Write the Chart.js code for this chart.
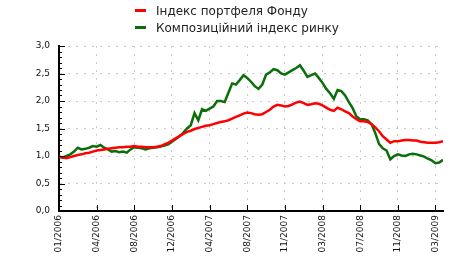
<!DOCTYPE html>
<html><head><meta charset="utf-8">
<script src="https://cdn.jsdelivr.net/npm/chart.js@4/dist/chart.umd.min.js"></script>
<style>
html,body{margin:0;padding:0;background:#fff;}
#wrap{position:relative;width:466px;height:276px;overflow:hidden;}
canvas{position:absolute;left:0;top:0;}
#legend{position:absolute;left:135px;top:2px;font:12px "DejaVu Sans",sans-serif;color:#222;}
.item{display:flex;align-items:center;height:17px;white-space:nowrap;}
.sw{display:inline-block;width:11px;height:3px;margin-right:10px;}
</style></head><body>
<div id="wrap">
<canvas id="c" width="466" height="276"></canvas>
<div id="legend"></div>
</div>
<script>
const seriesNames = ['Індекс портфеля Фонду', 'Композиційний індекс ринку'];
const seriesColors = ['#ff0000', '#0a6e0a'];
const tickLabels = ['01/2006','04/2006','08/2006','12/2006','04/2007','08/2007','11/2007','03/2008','07/2008','11/2008','03/2009'];
const fundIndex = [
0.99,0.97,0.96,0.98,1.00,1.02,1.03,1.05,1.06,1.08,
1.10,1.11,1.12,1.13,1.14,1.15,1.16,1.16,1.17,1.17,
1.18,1.17,1.17,1.16,1.16,1.16,1.17,1.18,1.21,1.24,
1.28,1.32,1.36,1.40,1.44,1.46,1.49,1.51,1.53,1.55,
1.56,1.58,1.60,1.62,1.63,1.65,1.68,1.71,1.74,1.77,
1.79,1.78,1.76,1.75,1.76,1.80,1.84,1.90,1.93,1.92,
1.90,1.91,1.94,1.97,1.99,1.96,1.93,1.94,1.96,1.95,
1.92,1.88,1.84,1.82,1.88,1.85,1.81,1.78,1.72,1.67,
1.63,1.63,1.62,1.58,1.52,1.45,1.36,1.30,1.24,1.27,
1.27,1.28,1.29,1.29,1.28,1.28,1.26,1.25,1.24,1.24,
1.24,1.25,1.27];
const marketIndex = [
0.98,0.97,1.00,1.03,1.08,1.15,1.12,1.13,1.15,1.18,
1.17,1.20,1.15,1.12,1.08,1.09,1.07,1.08,1.06,1.12,
1.16,1.15,1.14,1.12,1.14,1.15,1.16,1.17,1.19,1.21,
1.26,1.31,1.36,1.42,1.50,1.56,1.78,1.65,1.85,1.82,
1.86,1.90,2.00,2.00,1.98,2.15,2.32,2.30,2.38,2.47,
2.42,2.35,2.27,2.22,2.30,2.48,2.52,2.58,2.56,2.50,
2.48,2.52,2.56,2.60,2.65,2.55,2.44,2.47,2.50,2.42,
2.33,2.22,2.14,2.04,2.20,2.18,2.10,1.98,1.87,1.72,
1.67,1.67,1.65,1.58,1.42,1.22,1.14,1.10,0.94,1.00,
1.03,1.01,1.00,1.03,1.04,1.03,1.01,0.99,0.95,0.92,
0.87,0.88,0.93];

const legend = document.getElementById('legend');
seriesNames.forEach((n,i)=>{
  const d=document.createElement('div'); d.className='item';
  const s=document.createElement('span'); s.className='sw'; s.style.background=seriesColors[i];
  d.appendChild(s); d.appendChild(document.createTextNode(n)); legend.appendChild(d);
});

const LABEL_STEP = 10;
const inTicks = {
  id:'inTicks',
  afterDraw(chart){
    const {ctx, chartArea:a, scales:{x,y}} = chart;
    ctx.save(); ctx.strokeStyle='#000'; ctx.lineWidth=1;
    for(let k=0;k<=30;k++){
      const py=Math.round(y.getPixelForValue(k/10))+0.5;
      const len = k%5===0?6:3;
      ctx.beginPath(); ctx.moveTo(a.left,py); ctx.lineTo(a.left+len,py); ctx.stroke();
    }
    for(let k=0;k<tickLabels.length;k++){
      const px=Math.round(x.getPixelForValue(k*LABEL_STEP))+0.5;
      ctx.beginPath(); ctx.moveTo(px,a.bottom); ctx.lineTo(px,a.bottom-6); ctx.stroke();
    }
    ctx.restore();
  }
};

const tickFont = {family:'"DejaVu Sans", sans-serif', size:9};
new Chart(document.getElementById('c'), {
  type:'line',
  data:{datasets:[
    {label:seriesNames[0], data:fundIndex.map((v,i)=>({x:i,y:v})), borderColor:seriesColors[0], borderWidth:2.5, pointRadius:0, tension:0, order:1},
    {label:seriesNames[1], data:marketIndex.map((v,i)=>({x:i,y:v})), borderColor:seriesColors[1], borderWidth:2.5, pointRadius:0, tension:0, order:2}
  ]},
  options:{
    responsive:false, animation:false,
    layout:{padding:{top:46,left:0,right:23,bottom:0}},
    plugins:{legend:{display:false}, tooltip:{enabled:false}},
    scales:{
      x:{type:'linear', min:0, max:fundIndex.length-1,
        afterBuildTicks(s){ s.ticks = tickLabels.map((_,k)=>({value:k*LABEL_STEP})); },
        afterFit(s){ s.height=65; },
        ticks:{stepSize:LABEL_STEP, autoSkip:false, minRotation:90, maxRotation:90, padding:4, color:'#111', font:tickFont,
          callback:(v)=> tickLabels[Math.round(v/LABEL_STEP)] ?? ''},
        grid:{color:'#cccccc', lineWidth:1, drawTicks:false},
        border:{color:'#000', width:2, dash:[2,6]}
      },
      y:{min:0, max:3,
        afterFit(s){ s.width=59; },
        ticks:{stepSize:0.5, padding:9, color:'#111', font:tickFont,
          callback:(v)=> Number(v).toFixed(1).replace('.',',')},
        grid:{color:'#cccccc', lineWidth:1, drawTicks:false},
        border:{color:'#000', width:2, dash:[2,6]}
      }
    }
  },
  plugins:[inTicks]
});
</script>
</body></html>
